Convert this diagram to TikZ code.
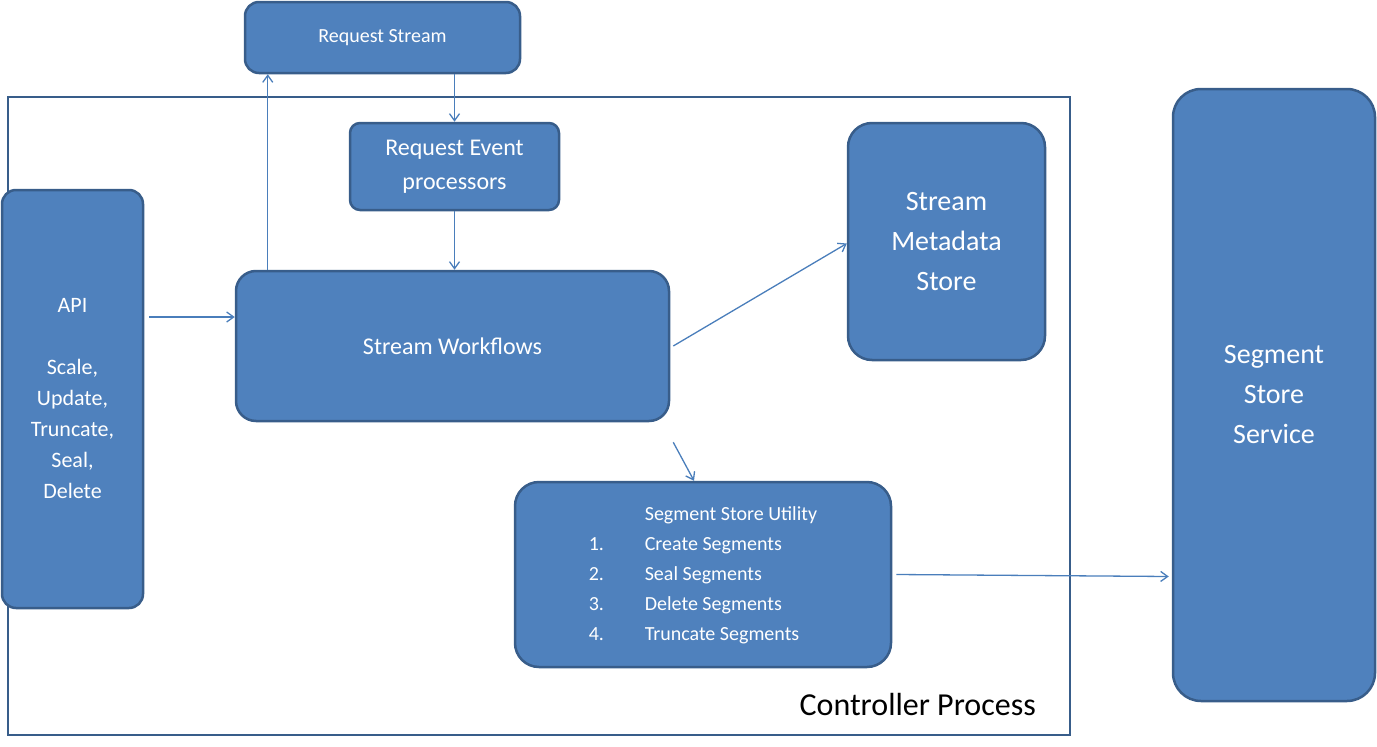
\documentclass[tikz,border=0pt]{standalone}
\usepackage{fontspec}
\setmainfont{Carlito}
\usetikzlibrary{arrows.meta,calc}
\begin{document}
\begin{tikzpicture}[x=1pt,y=-1pt,
  box/.style={draw=boxline,fill=boxfill,line width=2.5pt,rounded corners=14pt,text=white,align=center,inner sep=0pt},
  arr/.style={draw=arrcol,line width=1.3pt,-{Straight Barb[length=7pt,width=10pt]}}]
\definecolor{boxfill}{HTML}{4F81BD}
\definecolor{boxline}{HTML}{385D8A}
\definecolor{arrcol}{HTML}{4A7EBB}
\useasboundingbox (0,0) rectangle (1377,747);
\node[draw=boxline,line width=2.5pt,minimum width=1062pt,minimum height=638pt,inner sep=0pt] (ctrl) at (539,416) {};
\node[anchor=south east,font=\fontsize{32}{36}\selectfont,inner sep=0pt] (ctrllbl) at (1036,716) {Controller Process};
\node[box,minimum width=275pt,minimum height=71pt,font=\fontsize{20}{24}\selectfont] (rs) at (382.5,37.5) {Request Stream};
\node[box,minimum width=209pt,minimum height=87pt,font=\fontsize{24}{34}\selectfont,rounded corners=10pt] (rep) at (454.5,166.5) {Request Event\\processors};
\node[box,minimum width=141pt,minimum height=418pt,font=\fontsize{22}{31}\selectfont] (api) at (72.5,399) {API\\[31pt]Scale,\\Update,\\Truncate,\\Seal,\\Delete};
\node[box,minimum width=433pt,minimum height=150pt,font=\fontsize{24}{28}\selectfont,rounded corners=20pt] (sw) at (452.5,346) {Stream Workflows};
\node[box,minimum width=197pt,minimum height=237pt,font=\fontsize{28}{40}\selectfont,rounded corners=24pt] (sms) at (946.5,241.5) {Stream\\Metadata\\Store};
\node[box,minimum width=376pt,minimum height=185pt,font=\fontsize{20}{30}\selectfont,rounded corners=24pt] (ssu) at (703,574.5) {%
\begin{tabular}{@{}p{56pt}@{}l@{}}\multicolumn{2}{@{\hspace{56pt}}l@{}}{Segment Store Utility}\\
1. & Create Segments\\ 2. & Seal Segments\\ 3. & Delete Segments\\ 4. & Truncate Segments\end{tabular}};
\node[box,minimum width=202pt,minimum height=612pt,font=\fontsize{28}{40}\selectfont,rounded corners=28pt] (sss) at (1274,395) {Segment\\Store\\Service};
\coordinate (apiout) at (149,317);
\draw[arr] (apiout) -- (sw.west |- apiout);
\draw[arr] ([xshift=33pt]sw.north west) -- ([xshift=24pt]rs.south west);
\draw[arr] (rs.south -| rep.north) -- (rep.north);
\draw[arr] (rep.south) -- (sw.north -| rep.south);
\draw[arr] ([shift={(3pt,0)}]sw.east) -- ([yshift=-2pt]sms.west);
\draw[arr] ([shift={(3pt,-20pt)}]sw.south east) -- ([xshift=-9pt]ssu.north);
\draw[arr] ([xshift=4pt]ssu.east) -- ([shift={(-3pt,-2pt)}]sss.west |- ssu.east);
\end{tikzpicture}
\end{document}
